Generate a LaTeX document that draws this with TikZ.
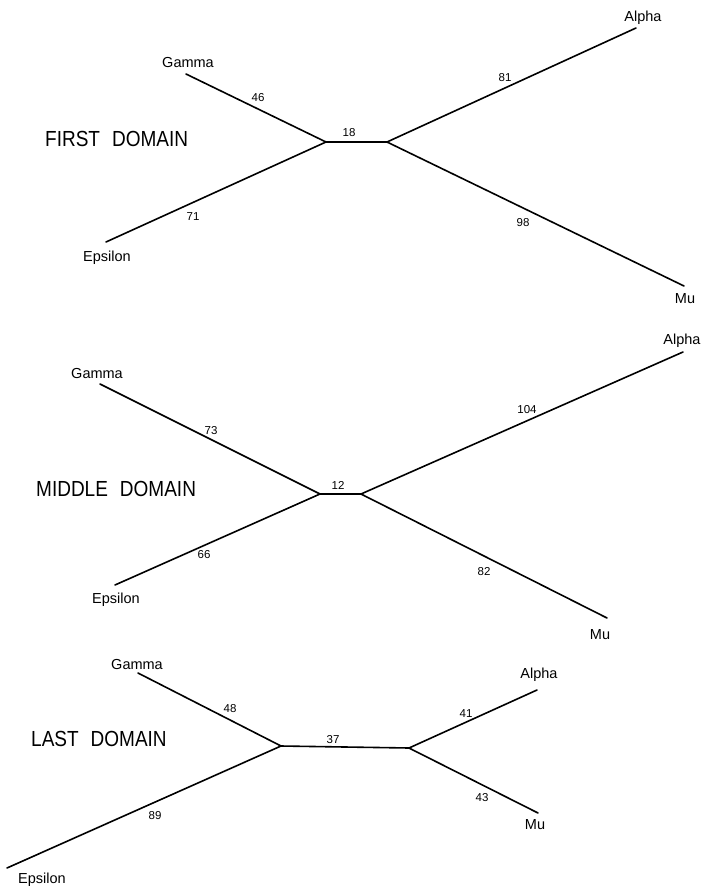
\documentclass[tikz,border=0pt]{standalone}
\usepackage{fontspec}
\setmainfont{Liberation Sans}
\begin{document}
\begin{tikzpicture}[x=1pt,y=-1pt,
  branch/.style={line width=1.6pt, line cap=round, line join=round},
  taxon/.style={font=\fontsize{14.5}{14.5}\selectfont, inner sep=0pt, text height=10pt, text depth=0pt},
  blen/.style={font=\fontsize{11.5}{11.5}\selectfont, inner sep=0pt, text height=8pt, text depth=0pt},
  domtitle/.style={font=\fontsize{19}{19}\selectfont, inner sep=0pt, anchor=west}]
\useasboundingbox (0,0) rectangle (701,886);

% ---------------- FIRST DOMAIN ----------------
\coordinate (g1) at (186,74);
\coordinate (e1) at (106,242);
\coordinate (j1) at (326,142);
\coordinate (k1) at (387,142);
\coordinate (a1) at (636,28);
\coordinate (m1) at (684,286);
\draw[branch] (g1) -- (j1) -- (e1);
\draw[branch] (j1) -- (k1);
\draw[branch] (a1) -- (k1) -- (m1);
\node[taxon] (G1) at (188,62) {Gamma};
\node[taxon] (E1) at (107,256) {Epsilon};
\node[taxon] (A1) at (643,16) {Alpha};
\node[taxon] (M1) at (685,298) {Mu};
\node[blen] (l46) at (258,97) {46};
\node[blen] (l71) at (193,216) {71};
\node[blen] (l18) at (349,132) {18};
\node[blen] (l81) at (505,77) {81};
\node[blen] (l98) at (523,222) {98};
\node[domtitle] (D1) at (45,139) {\scalebox{1}[1.15]{FIRST\hspace{12pt}DOMAIN}};

% ---------------- MIDDLE DOMAIN ----------------
\coordinate (g2) at (100,384);
\coordinate (e2) at (115,585);
\coordinate (j2) at (320,494);
\coordinate (k2) at (361,494);
\coordinate (a2) at (683,352);
\coordinate (m2) at (607,618);
\draw[branch] (g2) -- (j2) -- (e2);
\draw[branch] (j2) -- (k2);
\draw[branch] (a2) -- (k2) -- (m2);
\node[taxon] (G2) at (97,373) {Gamma};
\node[taxon] (E2) at (116,598) {Epsilon};
\node[taxon] (A2) at (682,339) {Alpha};
\node[taxon] (M2) at (600,634) {Mu};
\node[blen] (l73) at (211,430) {73};
\node[blen] (l66) at (204,554) {66};
\node[blen] (l12) at (338,485) {12};
\node[blen] (l104) at (527,409) {104};
\node[blen] (l82) at (484,571) {82};
\node[domtitle] (D2) at (36,489) {\scalebox{1}[1.15]{MIDDLE\hspace{12pt}DOMAIN}};

% ---------------- LAST DOMAIN ----------------
\coordinate (g3) at (138,673);
\coordinate (e3) at (7,868);
\coordinate (j3) at (281,746);
\coordinate (k3) at (409,748);
\coordinate (a3) at (537,690);
\coordinate (m3) at (538,813);
\draw[branch] (g3) -- (j3) -- (e3);
\draw[branch] (j3) -- (k3);
\draw[branch] (a3) -- (k3) -- (m3);
\node[taxon] (G3) at (137,664) {Gamma};
\node[taxon] (E3) at (42,878) {Epsilon};
\node[taxon] (A3) at (539,673) {Alpha};
\node[taxon] (M3) at (535,824) {Mu};
\node[blen] (l48) at (230,708) {48};
\node[blen] (l89) at (155,815) {89};
\node[blen] (l37) at (333,739) {37};
\node[blen] (l41) at (466,713) {41};
\node[blen] (l43) at (482,797) {43};
\node[domtitle] (D3) at (31,739) {\scalebox{1}[1.15]{LAST\hspace{12pt}DOMAIN}};
\end{tikzpicture}
\end{document}
